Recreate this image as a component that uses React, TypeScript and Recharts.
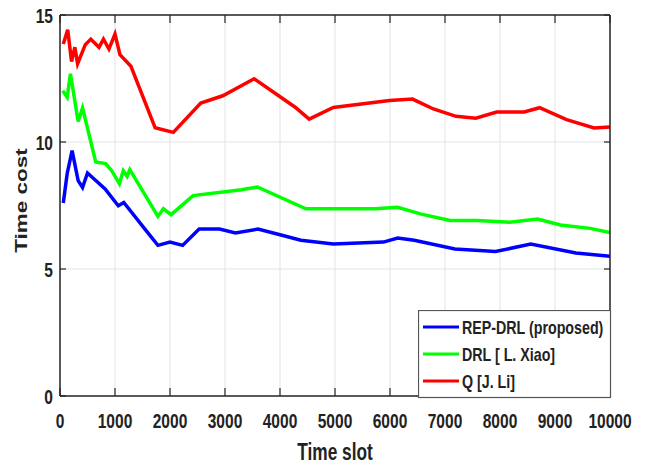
import { LineChart, Line, XAxis, YAxis, CartesianGrid, Legend } from "recharts";

// axis ticks
const slotTicks = [0, 1000, 2000, 3000, 4000, 5000, 6000, 7000, 8000, 9000, 10000];
const costTicks = [0, 5, 10, 15];

// REP-DRL (proposed)
const repSlots = [60, 130, 220, 330, 410, 500, 820, 1060, 1160, 1530, 1780, 2000, 2230, 2530, 2900, 3190, 3600, 4000, 4380, 4970, 5880, 6140, 6440, 7180, 7920, 8560, 9380, 10000];
const repCost = [7.6, 8.75, 9.66, 8.48, 8.21, 8.78, 8.15, 7.49, 7.62, 6.61, 5.93, 6.06, 5.93, 6.57, 6.57, 6.42, 6.57, 6.35, 6.13, 5.98, 6.06, 6.22, 6.13, 5.79, 5.69, 5.98, 5.63, 5.5];

// DRL [ L. Xiao]
const drlSlots = [50, 130, 190, 330, 410, 650, 830, 940, 1080, 1150, 1220, 1270, 1780, 1880, 2020, 2420, 3300, 3590, 4470, 5730, 6140, 6550, 7090, 7580, 8180, 8680, 9100, 9640, 10000];
const drlCost = [12.02, 11.76, 12.69, 10.81, 11.34, 9.21, 9.15, 8.87, 8.36, 8.87, 8.65, 8.91, 7.07, 7.37, 7.14, 7.89, 8.12, 8.23, 7.37, 7.37, 7.43, 7.17, 6.91, 6.91, 6.84, 6.97, 6.73, 6.6, 6.44];

// Q [J. Li]
const qSlots = [60, 140, 210, 270, 320, 460, 560, 710, 790, 890, 1000, 1090, 1290, 1730, 2060, 2560, 2960, 3530, 4270, 4530, 4970, 5990, 6410, 6790, 7200, 7560, 7940, 8440, 8720, 9210, 9710, 10000];
const qCost = [13.86, 14.42, 13.17, 13.73, 13.08, 13.83, 14.05, 13.73, 14.05, 13.66, 14.25, 13.44, 12.98, 10.56, 10.38, 11.53, 11.82, 12.49, 11.38, 10.9, 11.36, 11.63, 11.69, 11.3, 11.01, 10.94, 11.18, 11.18, 11.35, 10.88, 10.55, 10.59];

const toPoints = (slots: number[], cost: number[]) =>
  slots.map((slot, i) => ({ slot, cost: cost[i] }));

const series = [
  { name: "REP-DRL (proposed)", color: "#0000ff", data: toPoints(repSlots, repCost) },
  { name: "DRL [ L. Xiao]", color: "#00ff00", data: toPoints(drlSlots, drlCost) },
  { name: "Q [J. Li]", color: "#ff0000", data: toPoints(qSlots, qCost) },
];

const ink = "#222222";
const axisColor = "#262626";
const font = "'Liberation Sans', Arial, sans-serif";

// the source figure is squeezed sideways, so text is drawn narrower than tall
function SqText({ x, y, size, anchor = "start", sx = 0.74, children }: any) {
  return (
    <text
      transform={`translate(${x},${y}) scale(${sx},1)`}
      textAnchor={anchor}
      fontSize={size}
      fontWeight="bold"
      fontFamily={font}
      fill={ink}
    >
      {children}
    </text>
  );
}

const BottomTick = ({ x, y, payload }: any) => (
  <g>
    <line x1={x} y1={y} x2={x} y2={y - 8} stroke={axisColor} strokeWidth={1.2} />
    <SqText x={x} y={y + 32} size={21} anchor="middle">
      {payload.value}
    </SqText>
  </g>
);

const LeftTick = ({ x, y, payload }: any) => (
  <g>
    <line x1={x} y1={y} x2={x + 6} y2={y} stroke={axisColor} strokeWidth={1.2} />
    <SqText x={x - 7} y={y + 7.5} size={21} anchor="end">
      {payload.value}
    </SqText>
  </g>
);

const TopTick = ({ x, y }: any) => (
  <line x1={x} y1={y} x2={x} y2={y + 8} stroke={axisColor} strokeWidth={1.2} />
);

const RightTick = ({ x, y }: any) => (
  <line x1={x} y1={y} x2={x - 6} y2={y} stroke={axisColor} strokeWidth={1.2} />
);

const XLabel = ({ viewBox }: any) => (
  <SqText x={viewBox.x + viewBox.width / 2} y={viewBox.y + 64} size={24} sx={0.72} anchor="middle">
    Time slot
  </SqText>
);

const YLabel = () => (
  <text
    transform="translate(27,200.5) scale(0.74,1) rotate(-90)"
    textAnchor="middle"
    fontSize={22.5}
    fontWeight="bold"
    fontFamily={font}
    fill={ink}
  >
    Time cost
  </text>
);

const LegendBox = () => (
  <svg width={194} height={89} style={{ display: "block" }}>
    <rect x={0.5} y={0.5} width={192} height={87} fill="#ffffff" stroke="#555555" strokeWidth={1.2} />
    {series.map((s, i) => (
      <g key={s.name}>
        <line x1={5} x2={41} y1={17 + 27 * i} y2={17 + 27 * i} stroke={s.color} strokeWidth={3} />
        <SqText x={44} y={17 + 27 * i + 7} size={19} sx={0.75}>
          {s.name}
        </SqText>
      </g>
    ))}
  </svg>
);

export default function App() {
  return (
    <div style={{ position: "absolute", left: 0, top: 0, width: 648, height: 466, background: "#fff" }}>
      <LineChart width={648} height={466} margin={{ top: 14, right: 37, left: 0, bottom: 0 }}>
        <CartesianGrid stroke="#e3e3e3" strokeWidth={1} />
        <XAxis
          dataKey="slot"
          type="number"
          domain={[0, 10000]}
          ticks={slotTicks}
          height={70}
          tickSize={0}
          tickMargin={0}
          tickLine={false}
          axisLine={{ stroke: axisColor, strokeWidth: 1.5 }}
          tick={<BottomTick />}
          label={<XLabel />}
          allowDataOverflow
        />
        <XAxis
          xAxisId="top"
          orientation="top"
          dataKey="slot"
          type="number"
          domain={[0, 10000]}
          ticks={slotTicks}
          height={1}
          tickSize={0}
          tickMargin={0}
          tickLine={false}
          axisLine={{ stroke: axisColor, strokeWidth: 1.5 }}
          tick={<TopTick />}
          allowDataOverflow
        />
        <YAxis
          type="number"
          domain={[0, 15]}
          ticks={costTicks}
          width={60}
          tickSize={0}
          tickMargin={0}
          tickLine={false}
          axisLine={{ stroke: axisColor, strokeWidth: 1.5 }}
          tick={<LeftTick />}
          label={<YLabel />}
          allowDataOverflow
        />
        <YAxis
          yAxisId="right"
          orientation="right"
          type="number"
          domain={[0, 15]}
          ticks={costTicks}
          width={1}
          tickSize={0}
          tickMargin={0}
          tickLine={false}
          axisLine={{ stroke: axisColor, strokeWidth: 1.5 }}
          tick={<RightTick />}
          allowDataOverflow
        />
        {series.map((s) => (
          <Line
            key={s.name}
            data={s.data}
            dataKey="cost"
            name={s.name}
            type="linear"
            stroke={s.color}
            strokeWidth={3.5}
            dot={false}
            isAnimationActive={false}
          />
        ))}
        <Legend
          layout="vertical"
          align="center"
          verticalAlign="middle"
          content={<LegendBox />}
          wrapperStyle={{ position: "absolute", left: 418, top: 310, width: 194, height: 89 }}
        />
      </LineChart>
    </div>
  );
}
